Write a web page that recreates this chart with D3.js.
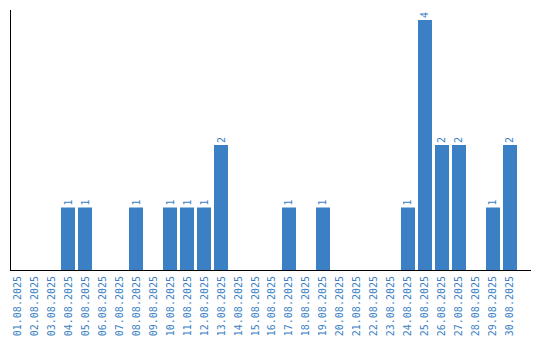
<!DOCTYPE html>
<html>
<head>
<meta charset="utf-8">
<script src="https://cdn.jsdelivr.net/npm/d3@7"></script>
<style>
  body { margin: 0; background: #fff; }
</style>
</head>
<body>
<div id="chart"></div>
<script>
// dates along the bottom
const days = ["01.08.2025","02.08.2025","03.08.2025","04.08.2025","05.08.2025","06.08.2025",
  "07.08.2025","08.08.2025","09.08.2025","10.08.2025","11.08.2025","12.08.2025","13.08.2025",
  "14.08.2025","15.08.2025","16.08.2025","17.08.2025","18.08.2025","19.08.2025","20.08.2025",
  "21.08.2025","22.08.2025","23.08.2025","24.08.2025","25.08.2025","26.08.2025","27.08.2025",
  "28.08.2025","29.08.2025","30.08.2025"];
// count per day
const counts = [0,0,0,1,1,0,0,1,0,1,1,1,2,0,0,0,1,0,1,0,0,0,0,1,4,2,2,0,1,2];

const width = 540, height = 340;
const plotLeft = 10, plotTop = 20, plotBottom = 270;
const blue = "#3b7fc4";

const svg = d3.select("#chart")
  .append("svg")
    .attr("width", width)
    .attr("height", height);

const x = d3.scaleBand()
  .domain(days)
  .range([plotLeft, 517])
  .paddingInner(0.176)
  .paddingOuter(0);

const y = d3.scaleLinear()
  .domain([0, d3.max(counts)])
  .range([plotBottom, plotTop]);

const data = days.map((d, i) => ({day: d, n: counts[i]}));

// bars
svg.selectAll("rect.bar")
  .data(data.filter(d => d.n > 0))
  .join("rect")
    .attr("class", "bar")
    .attr("x", d => x(d.day))
    .attr("y", d => y(d.n))
    .attr("width", x.bandwidth())
    .attr("height", d => y(0) - y(d.n))
    .attr("fill", blue);

// value labels above bars, rotated
svg.selectAll("text.val")
  .data(data.filter(d => d.n > 0))
  .join("text")
    .attr("class", "val")
    .attr("transform", d => `translate(${x(d.day) + x.bandwidth() / 2 + 3.5}, ${y(d.n) - 2}) rotate(-90)`)
    .attr("text-anchor", "start")
    .style("font-family", "DejaVu Sans Mono")
    .style("font-size", "10px")
    .attr("fill", blue)
    .text(d => d.n);

// x tick labels, rotated
svg.selectAll("text.tick")
  .data(days)
  .join("text")
    .attr("class", "tick")
    .attr("transform", d => `translate(${x(d) + x.bandwidth() / 2 + 3.5}, 276) rotate(-90)`)
    .attr("text-anchor", "end")
    .style("font-family", "DejaVu Sans Mono")
    .style("font-size", "10px")
    .attr("fill", blue)
    .text(d => d);

// axis lines
svg.append("line")
  .attr("x1", 10.5).attr("x2", 10.5)
  .attr("y1", 10).attr("y2", 270.5)
  .attr("stroke", "#000");
svg.append("line")
  .attr("x1", 10).attr("x2", 531)
  .attr("y1", 270.5).attr("y2", 270.5)
  .attr("stroke", "#000");
</script>
</body>
</html>
